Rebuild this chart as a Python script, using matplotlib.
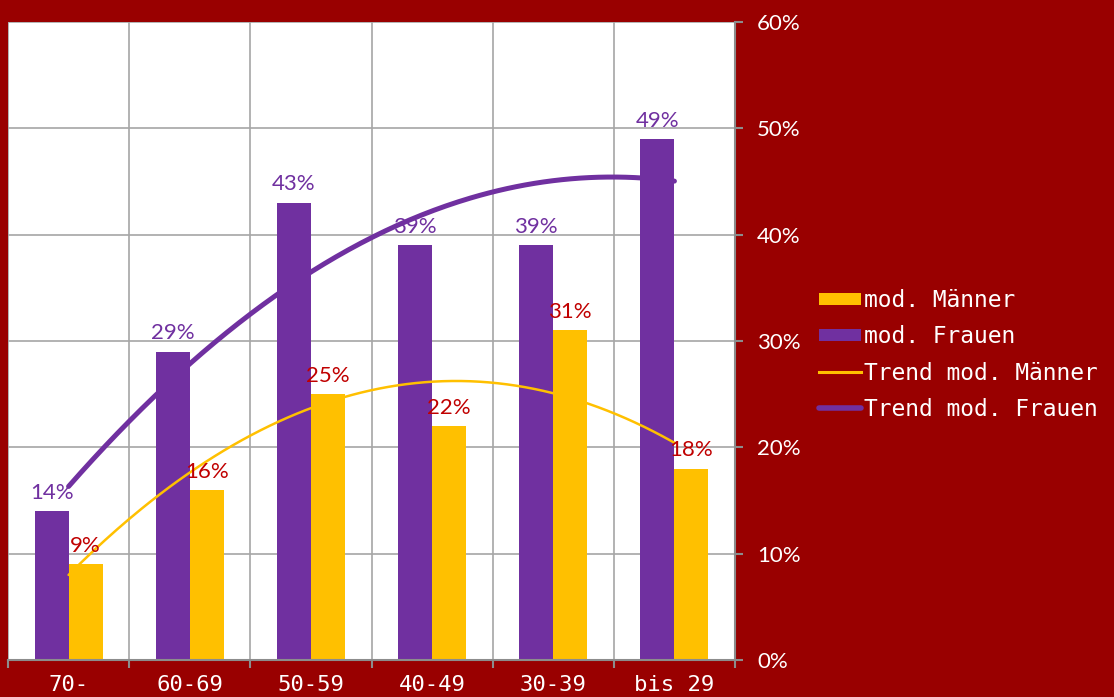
import matplotlib
matplotlib.use("Agg")
import matplotlib.pyplot as plt
from matplotlib.patches import Patch
from matplotlib.lines import Line2D
import numpy as np

# data (percent)
categories = ["70-", "60-69", "50-59", "40-49", "30-39", "bis 29"]
frauen = [14, 29, 43, 39, 39, 49]
maenner = [9, 16, 25, 22, 31, 18]

BG = "#990000"
PURPLE = "#7030A0"
GOLD = "#FFC000"
LABEL_RED = "#C00000"
GRID = "#A6A6A6"

fig = plt.figure(figsize=(11.14, 6.97), dpi=100, facecolor=BG)
ax = fig.add_axes([8 / 1114, 1 - 660 / 697, 727 / 1114, 638 / 697])
ax.set_facecolor("white")

x = np.arange(len(categories))
w = 0.28
b_f = ax.bar(x - w / 2, frauen, w, color=PURPLE, zorder=2)
b_m = ax.bar(x + w / 2, maenner, w, color=GOLD, zorder=2)

# data labels
ax.bar_label(b_f, labels=[f"{v}%" for v in frauen], padding=6,
             color=PURPLE, fontsize=16, family="Lato", zorder=5)
ax.bar_label(b_m, labels=[f"{v}%" for v in maenner], padding=6,
             color=LABEL_RED, fontsize=16, family="Lato", zorder=5)

# polynomial (order 2) trend lines, like Excel
xs = np.linspace(0, len(categories) - 1, 200)
pf = np.polyfit(x, frauen, 2)
pm = np.polyfit(x, maenner, 2)
ax.plot(xs, np.polyval(pm, xs), color=GOLD, lw=1.8, zorder=4,
        solid_capstyle="round")
ax.plot(xs, np.polyval(pf, xs), color=PURPLE, lw=3.6, zorder=4,
        solid_capstyle="round")

ax.set_xlim(-0.5, len(categories) - 0.5)
ax.set_ylim(0, 60)
ax.set_yticks(range(0, 61, 10))
ax.set_yticklabels([f"{v}%" for v in range(0, 61, 10)])
ax.yaxis.tick_right()
ax.set_xticks(x)
ax.set_xticklabels(categories)
ax.set_xticks(np.arange(-0.5, len(categories)), minor=True)

ax.grid(axis="y", color=GRID, lw=1.2, zorder=0)
ax.grid(axis="x", which="minor", color=GRID, lw=1.2, zorder=0)
ax.tick_params(axis="x", which="major", length=0, pad=11,
               labelcolor="white", labelsize=16)
ax.tick_params(axis="x", which="minor", length=6, color="#8C8C8C", width=1.5)
ax.tick_params(axis="y", length=6, color="#8C8C8C", width=1.5, pad=10,
               labelcolor="white", labelsize=16)
for lab in ax.get_xticklabels():
    lab.set_family("DejaVu Sans Mono")
for lab in ax.get_yticklabels():
    lab.set_family("Lato")
for s in ["left", "top"]:
    ax.spines[s].set_visible(False)
for s in ["right", "bottom"]:
    ax.spines[s].set_color("#8C8C8C")
    ax.spines[s].set_linewidth(1.5)

handles = [
    Patch(facecolor=GOLD, label="mod. Männer"),
    Patch(facecolor=PURPLE, label="mod. Frauen"),
    Line2D([], [], color=GOLD, lw=2.2, label="Trend mod. Männer"),
    Line2D([], [], color=PURPLE, lw=4, solid_capstyle="round",
           label="Trend mod. Frauen"),
]
leg = fig.legend(handles=handles, loc="center left",
                 bbox_to_anchor=(808 / 1114, 1 - 355 / 697),
                 frameon=False, prop={"family": "DejaVu Sans Mono", "size": 16.5},
                 labelcolor="white", handlelength=1.8, handleheight=0.45,
                 handletextpad=0.15, labelspacing=0.57, borderpad=0)

fig.savefig("out.png", dpi=100, facecolor=BG)
